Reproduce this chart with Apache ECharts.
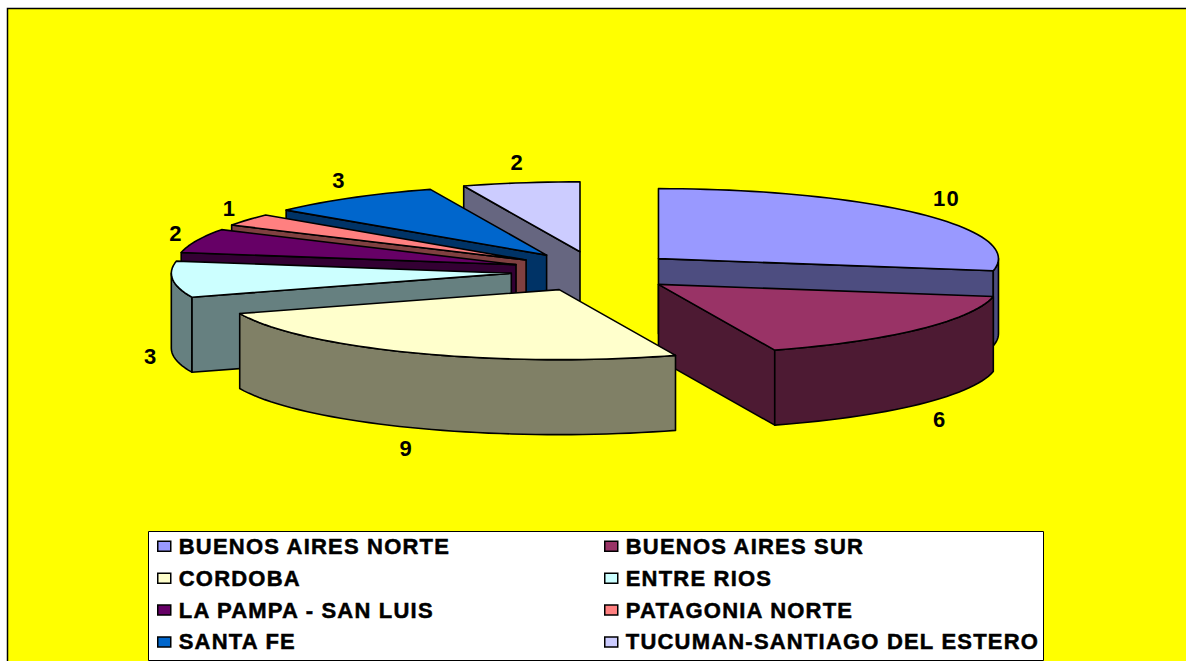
<!DOCTYPE html>
<html>
<head>
<meta charset="utf-8">
<style>
html,body{margin:0;padding:0;background:#fff;overflow:hidden}
#c{width:1186px;height:661px}
#c text{letter-spacing:1.2px}
</style>
<script src="https://cdn.jsdelivr.net/npm/echarts@6/dist/echarts.min.js"></script>
</head>
<body>
<div id="c"></div>
<script>
const categories = ['BUENOS AIRES NORTE','BUENOS AIRES SUR','CORDOBA','ENTRE RIOS','LA PAMPA - SAN LUIS','PATAGONIA NORTE','SANTA FE','TUCUMAN-SANTIAGO DEL ESTERO'];
const values = [10,6,9,3,2,1,3,2];
const topColors = ['#9999FF','#993366','#FFFFCC','#CCFFFF','#660066','#FF8080','#0066CC','#CCCCFF'];
const wallColors = ['#4D4D80','#4D1A33','#808066','#668080','#330033','#804040','#003366','#666680'];
const drawOrder = [7,6,5,4,3,0,1,2];

const CX = 594.5, CY = 271.5, RX = 340, RY = 70, DEPTH = 75, EXPLODE_X = 83.5, EXPLODE_Y = 20;
const total = values.reduce((a,b)=>a+b,0);
const LINE = {stroke:'#000',lineWidth:1.6,lineJoin:'round'};

let acc = 0;
const slices = values.map(v=>{
  const a0 = acc/total*2*Math.PI; acc += v;
  const a1 = acc/total*2*Math.PI;
  const mid = (a0+a1)/2;
  return {a0,a1,mid,ax:CX+EXPLODE_X*Math.sin(mid),ay:CY-EXPLODE_Y*Math.cos(mid)};
});

function rim(s,a){return [s.ax+RX*Math.sin(a), s.ay-RY*Math.cos(a)];}
function down(p){return [p[0],p[1]+DEPTH];}
function poly(points,fill,z2){
  return {type:'polygon',shape:{points},z2,style:Object.assign({fill},LINE)};
}
function arcPts(s,from,to){
  const n = Math.max(2,Math.ceil((to-from)/(Math.PI/90))), out=[];
  for(let i=0;i<=n;i++) out.push(rim(s,from+(to-from)*i/n));
  return out;
}

function renderSlice(i){
  const s = slices[i], wall = wallColors[i], top = topColors[i], children = [];
  const apex = [s.ax,s.ay];
  // radial side walls, only those facing the viewer
  if(Math.sin(s.a0)<-1e-6){
    const p = rim(s,s.a0);
    children.push(poly([apex,p,down(p),down(apex)],wall,1));
  }
  if(Math.sin(s.a1)>1e-6){
    const p = rim(s,s.a1);
    children.push(poly([apex,p,down(p),down(apex)],wall,2));
  }
  // outer wall: the part of the rim that faces the viewer
  const from = Math.max(s.a0,Math.PI/2), to = Math.min(s.a1,Math.PI*1.5);
  if(to>from){
    const arc = arcPts(s,from,to);
    children.push(poly(arc.concat(arc.map(down).reverse()),wall,3));
  }
  // top face
  children.push(poly([apex].concat(arcPts(s,s.a0,s.a1)),top,4));
  // value label
  const edge = rim(s,s.mid), front = Math.cos(s.mid)<0, left = Math.sin(s.mid)<0;
  children.push({type:'text',z2:5,style:{
    text:String(values[i]),
    x:edge[0]+(left?22:(front?27:36))*Math.sin(s.mid),
    y:edge[1]-(front?23:(left?20.5:24))*Math.cos(s.mid)+(front?DEPTH:0),
    align:'center',verticalAlign:'middle',
    font:'bold 22px "Liberation Sans", Arial, sans-serif',fill:'#000'
  }});
  return {type:'group',children};
}

const legendBase = {
  orient:'vertical',icon:'rect',itemWidth:13,itemHeight:10,padding:0,itemGap:9.4,
  selectedMode:false,z:20,
  itemStyle:{borderColor:'#000',borderWidth:1.5},
  textStyle:{fontFamily:'"Liberation Sans", Arial, sans-serif',fontWeight:'bold',fontSize:22,color:'#000',padding:[0,0,0,3],lineHeight:22,textBorderColor:'#000',textBorderWidth:0.5}
};

const chart = echarts.init(document.getElementById('c'),null,{renderer:'svg'});
chart.setOption({
  animation:false,
  backgroundColor:'#fff',
  tooltip:{show:false},
  graphic:[
    {type:'rect',z:0,silent:true,shape:{x:7.5,y:8.5,width:1190,height:670},style:{fill:'#FFFF00',stroke:'#000',lineWidth:1.5}},
    {type:'rect',z:1,silent:true,shape:{x:148.5,y:531.5,width:895,height:129},style:{fill:'#fff',stroke:'#000',lineWidth:1}}
  ],
  legend:[
    Object.assign({},legendBase,{left:157,top:535,data:categories.filter((_,i)=>i%2===0)}),
    Object.assign({},legendBase,{left:604,top:535,data:categories.filter((_,i)=>i%2===1)})
  ],
  series:categories.map((name,i)=>({
    type:'custom',name,coordinateSystem:'none',silent:true,
    z:2+drawOrder.indexOf(i),
    itemStyle:{color:topColors[i]},
    data:[values[i]],
    renderItem:()=>renderSlice(i)
  }))
});
</script>
</body>
</html>
